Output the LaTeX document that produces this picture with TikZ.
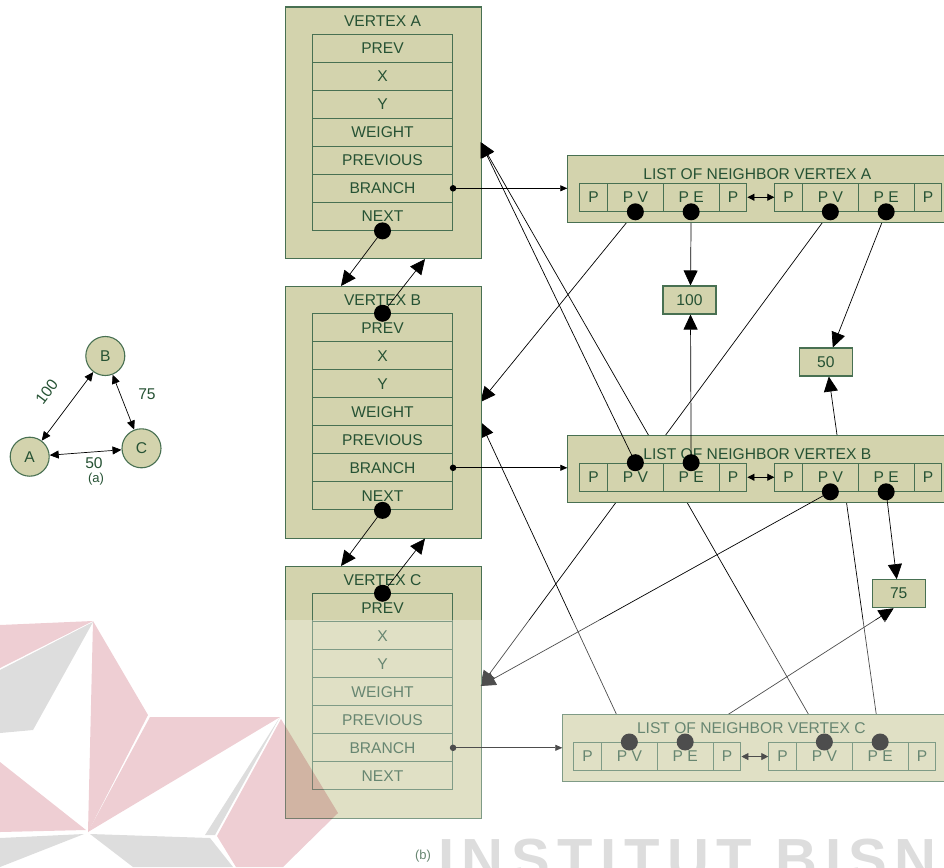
\documentclass[tikz,border=0pt]{standalone}
\usepackage{fontspec}
\setmainfont{Liberation Sans}
\usetikzlibrary{arrows.meta}

\definecolor{khaki}{RGB}{211,211,173}
\definecolor{edgegreen}{RGB}{72,112,82}
\definecolor{inkgreen}{RGB}{38,82,52}
\definecolor{logopink}{RGB}{238,206,211}
\definecolor{logogrey}{RGB}{221,221,221}

\pgfdeclarelayer{under}
\pgfsetlayers{under,main}

\tikzset{
  lbl/.style={font=\fontsize{15.6}{18}\selectfont, text=inkgreen, inner sep=0pt},
  frame/.style={draw=edgegreen, fill=khaki, line width=1.1pt},
  cell/.style={frame, lbl, minimum height=28pt},
  ptr/.style={line width=0.7pt, -{Triangle[length=15pt,width=14pt]}},
  link/.style={line width=0.7pt, -{Triangle[length=7pt,width=6pt]}},
  dlink/.style={line width=0.8pt, {Triangle[length=7pt,width=7pt]}-{Triangle[length=7pt,width=7pt]}},
  bigdot/.style={circle, fill=black, inner sep=0pt, minimum size=17pt},
  smalldot/.style={circle, fill=black, inner sep=0pt, minimum size=6.5pt},
  gnode/.style={circle, frame, lbl, minimum size=39pt},
  gedge/.style={line width=0.7pt, {Triangle[length=9pt,width=8pt]}-{Triangle[length=9pt,width=8pt]}},
  caption/.style={lbl, font=\fontsize{13}{15}\selectfont},
}

% vertex record: name, top edge, title
\newcommand\vertexrecord[3]{%
  \node[frame, anchor=north west, minimum width=196pt, minimum height=251.5pt, inner sep=0pt] (#1) at (284.5,#2) {};
  \node[lbl] (#1-title) at (382.5,#2+14.5) {#3};
  \foreach \lab [count=\i] in {PREV,X,Y,WEIGHT,PREVIOUS,BRANCH,NEXT}
    \node[cell, minimum width=140pt] (#1-\i) at (382.5,#2+13.8+28*\i) {\lab};
}

% neighbour list: name, outer left, outer top, first cell left, title drop, title
\newcommand\neighborlist[6]{%
  \node[frame, anchor=north west, minimum width={946pt-#2pt}, minimum height=67pt, inner sep=0pt] (#1) at (#2,#3) {};
  \node[lbl] (#1-title) at (#4+178,#3+#5) {#6};
  \foreach \nm/\off/\w/\lab in {p1/0/27.6/P, v1/27.6/55.8/P V, e1/83.4/55.8/P E, q1/139.2/27.8/P,
                                p2/195/27.6/P, v2/222.6/55.8/P V, e2/278.4/55.8/P E, q2/334.2/27.8/P}
    \node[cell, minimum width=\w pt, anchor=north west] (#1-\nm) at (#4+\off,#3+27.7) {\lab};
  \draw[dlink] (#1-q1.east) -- (#1-p2.west);
}

\begin{document}
\begin{tikzpicture}[x=1pt,y=-1pt]
\useasboundingbox (0,0) rectangle (944,867);

% ---------- (a) the graph ----------
\node[gnode] (gA) at (29.7,456.7) {A};
\node[gnode] (gB) at (105.3,356) {B};
\node[gnode] (gC) at (141.5,448.3) {C};
\draw[gedge] (gA) -- (gB);
\draw[gedge] (gB) -- (gC);
\draw[gedge] (gA) -- (gC);
\node[lbl, rotate=53] (w-ab) at (46.7,392) {100};
\node[lbl] (w-bc) at (147,394) {75};
\node[lbl] (w-ac) at (94,462.7) {50};
\node[caption] (cap-a) at (96,479) {(a)};

% ---------- (b) vertex records ----------
\vertexrecord{A}{6.5}{VERTEX A}
\vertexrecord{B}{286}{VERTEX B}
\vertexrecord{C}{566}{VERTEX C}

% ---------- neighbour lists ----------
\neighborlist{LA}{567.3}{155}{579.3}{19}{LIST OF NEIGHBOR VERTEX A}
\neighborlist{LB}{567.3}{435}{579.3}{19}{LIST OF NEIGHBOR VERTEX B}
\neighborlist{LC}{562.3}{714.3}{573.3}{13.4}{LIST OF NEIGHBOR VERTEX C}

% ---------- edge weights ----------
\node[cell, minimum width=53pt] (v100) at (689.5,300) {100};
\node[cell, minimum width=53pt] (v50) at (825.8,362) {50};
\node[cell, minimum width=53pt] (v75) at (898.7,593.7) {75};

% entry points on the right side of the vertex records
\coordinate (A-in) at (480.5,142);
\coordinate (B-in1) at (480.5,402);
\coordinate (B-in2) at (480.5,422);
\coordinate (C-in) at (480.5,686);

% pointers of lists A and C run behind the list boxes
\begin{pgfonlayer}{under}
  \draw[ptr] (LA-v1.south) -- (B-in1);
  \draw[ptr] (LA-e1.south) -- ([xshift=1pt]v100.north);
  \draw[ptr] (LA-v2.south) -- (C-in);
  \draw[ptr] (LA-e2.south) -- ([xshift=7pt]v50.north);
  \draw[ptr] (LC-v1.north) -- (B-in2);
  \draw[ptr] (LC-e1.north) -- ([xshift=-5pt]v75.south);
  \draw[ptr] (LC-v2.north) -- (A-in);
  \draw[ptr] (LC-e2.north) -- ([xshift=3pt]v50.south);
\end{pgfonlayer}

% pointers of list B
\draw[ptr] (LB-v1.north) -- (A-in);
\draw[ptr] (LB-e1.north) -- ([xshift=1pt]v100.south);
\draw[ptr] (LB-v2.south) -- (C-in);
\draw[ptr] (LB-e2.south) -- ([xshift=-2pt]v75.north);

% NEXT / PREV chain between the records
\draw[ptr] (A-7.south) -- ([xshift=56.5pt]B.north west);
\draw[ptr] (B-1.north) -- ([xshift=140.5pt]A.south west);
\draw[ptr] (B-7.south) -- ([xshift=56.5pt]C.north west);
\draw[ptr] (C-1.north) -- ([xshift=140.5pt]B.south west);

% BRANCH links into the lists
\draw[link] (A-6.east) -- (LA.west |- A-6.east);
\draw[link] (B-6.east) -- (LB.west |- B-6.east);
\draw[link] (C-6.east) -- (LC.west |- C-6.east);
\node[smalldot] (A-bd) at (A-6.east) {};
\node[smalldot] (B-bd) at (B-6.east) {};
\node[smalldot] (C-bd) at (C-6.east) {};

% pointer dots
\node[bigdot] (A-nd) at (A-7.south) {};
\node[bigdot] (B-pd) at (B-1.north) {};
\node[bigdot] (B-nd) at (B-7.south) {};
\node[bigdot] (C-pd) at (C-1.north) {};
\foreach \c in {v1,e1,v2,e2} \node[bigdot] (LA-\c d) at (LA-\c.south) {};
\foreach \c in {v1,e1} \node[bigdot] (LB-\c d) at (LB-\c.north) {};
\foreach \c in {v2,e2} \node[bigdot] (LB-\c d) at (LB-\c.south) {};
\foreach \c in {v1,e1,v2,e2} \node[bigdot] (LC-\c d) at (LC-\c.north) {};

\node[caption] (cap-b) at (423,856) {(b)};

% ---------- institute watermark ----------
\fill[white, opacity=0.3] (0,620) rectangle (944,867);
\begin{scope}[blend mode=multiply]
  \fill[logopink] (0,625) -- (93,621) -- (0,668) -- cycle;
  \fill[logopink] (93,621) -- (148,715) -- (88,832) -- cycle;
  \fill[logopink] (150,717) -- (280,717) -- (88,832) -- cycle;
  \fill[logopink] (281,719) -- (338,813) -- (283,867) -- (236,867) -- (217,836) -- cycle;
  \fill[logopink] (0,762) -- (86,830) -- (0,832) -- cycle;
  \fill[logogrey] (0,670) -- (93,622) -- (33,730) -- (0,733) -- cycle;
  \fill[logogrey] (280,717) -- (215,835) -- (205,835) -- cycle;
  \fill[logogrey] (90,834) -- (210,838) -- (233,867) -- (133,867) -- cycle;
  \fill[logogrey] (0,838) -- (84,834) -- (0,867) -- cycle;
\end{scope}
\node[anchor=base west, inner sep=0pt, text=logogrey,
      font=\fontsize{58}{64}\selectfont\bfseries\addfontfeatures{LetterSpace=13}] (wm-text) at (438,879) {INSTITUT BISNIS};
\end{tikzpicture}
\end{document}
